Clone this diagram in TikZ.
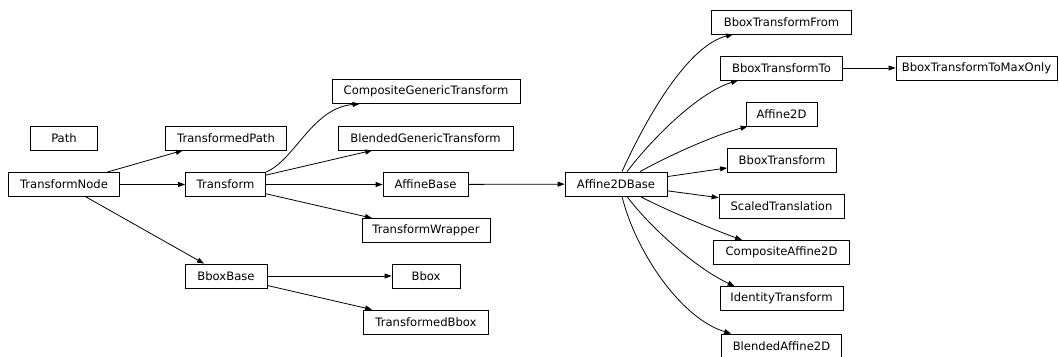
\documentclass[tikz,border=0pt]{standalone}
\usepackage{fontspec}
\setmainfont{DejaVu Sans}
\usetikzlibrary{arrows.meta}
\begin{document}
\begin{tikzpicture}[x=1pt,y=-1pt,
  cls/.style={draw, line width=0.8pt, minimum height=24pt, inner xsep=0pt, inner ysep=0pt,
    font=\fontsize{11.6}{13}\selectfont},
  edge/.style={draw, line width=0.8pt, -{Triangle[length=7pt,width=5pt]}}]
\useasboundingbox (0,0) rectangle (1059,356);
\fill[white] (0,0) rectangle (1059,356);
\node[cls, minimum width=67pt]  (path)  at (64,138)   {Path};
\node[cls, minimum width=121pt] (tpath) at (226,138)  {TransformedPath};
\node[cls, minimum width=111pt] (tnode) at (64,184.5) {TransformNode};
\node[cls, minimum width=80pt]  (trans) at (225.5,184.5) {Transform};
\node[cls, minimum width=188pt] (cgt)   at (426,91.5) {CompositeGenericTransform};
\node[cls, minimum width=175pt] (bgt)   at (425.5,138) {BlendedGenericTransform};
\node[cls, minimum width=85pt]  (affb)  at (425.5,184.5) {AffineBase};
\node[cls, minimum width=128pt] (twrap) at (426,230.5) {TransformWrapper};
\node[cls, minimum width=82pt]  (bboxb) at (226,276)  {BboxBase};
\node[cls, minimum width=68pt]  (bbox)  at (426,276)  {Bbox};
\node[cls, minimum width=125pt] (tbbox) at (426,322)  {TransformedBbox};
\node[cls, minimum width=102pt] (a2db)  at (616,184)  {Affine2DBase};
\node[cls, minimum width=140pt] (btf)   at (781.5,22) {BboxTransformFrom};
\node[cls, minimum width=122pt] (btt)   at (781.5,68) {BboxTransformTo};
\node[cls, minimum width=161pt] (btto)  at (976.5,68) {BboxTransformToMaxOnly};
\node[cls, minimum width=71pt]  (a2d)   at (781.5,114) {Affine2D};
\node[cls, minimum width=109pt] (bt)    at (782,160)  {BboxTransform};
\node[cls, minimum width=125pt] (st)    at (781.5,206) {ScaledTranslation};
\node[cls, minimum width=136pt] (ca2d)  at (781.5,252.5) {CompositeAffine2D};
\node[cls, minimum width=123pt] (it)    at (781.5,298.5) {IdentityTransform};
\node[cls, minimum width=120pt] (ba2d)  at (781.5,346) {BlendedAffine2D};

\path[edge] (tnode) -- (tpath);
\path[edge] (tnode) -- (trans);
\path[edge] (tnode) -- (bboxb);
\path[edge] (trans.north east) .. controls (295,160) and (312,108) .. ([xshift=28pt]cgt.south west);
\path[edge] (trans) -- (bgt);
\path[edge] (trans) -- (affb);
\path[edge] (trans) -- (twrap);
\path[edge] (bboxb) -- (bbox);
\path[edge] (bboxb) -- (tbbox);
\path[edge] (affb) -- (a2db);
\path[edge] (btt) -- (btto);
\path[edge] ([xshift=6pt]a2db.north) .. controls (650,110) and (690,45) .. ([xshift=22pt]btf.south west);
\path[edge] ([xshift=11pt]a2db.north) .. controls (655,135) and (700,92) .. ([xshift=18pt]btt.south west);
\path[edge] ([xshift=24pt]a2db.north) .. controls (670,155) and (715,135) .. ([xshift=2pt]a2d.south west);
\path[edge] (a2db) -- (bt);
\path[edge] (a2db) -- (st);
\path[edge] ([xshift=24pt]a2db.south) .. controls (670,212) and (715,230) .. ([xshift=29pt]ca2d.north west);
\path[edge] ([xshift=11pt]a2db.south) .. controls (648,225) and (695,268) .. ([xshift=15pt]it.north west);
\path[edge] ([xshift=6pt]a2db.south) .. controls (635,250) and (680,318) .. ([xshift=10pt]ba2d.north west);
\end{tikzpicture}
\end{document}
